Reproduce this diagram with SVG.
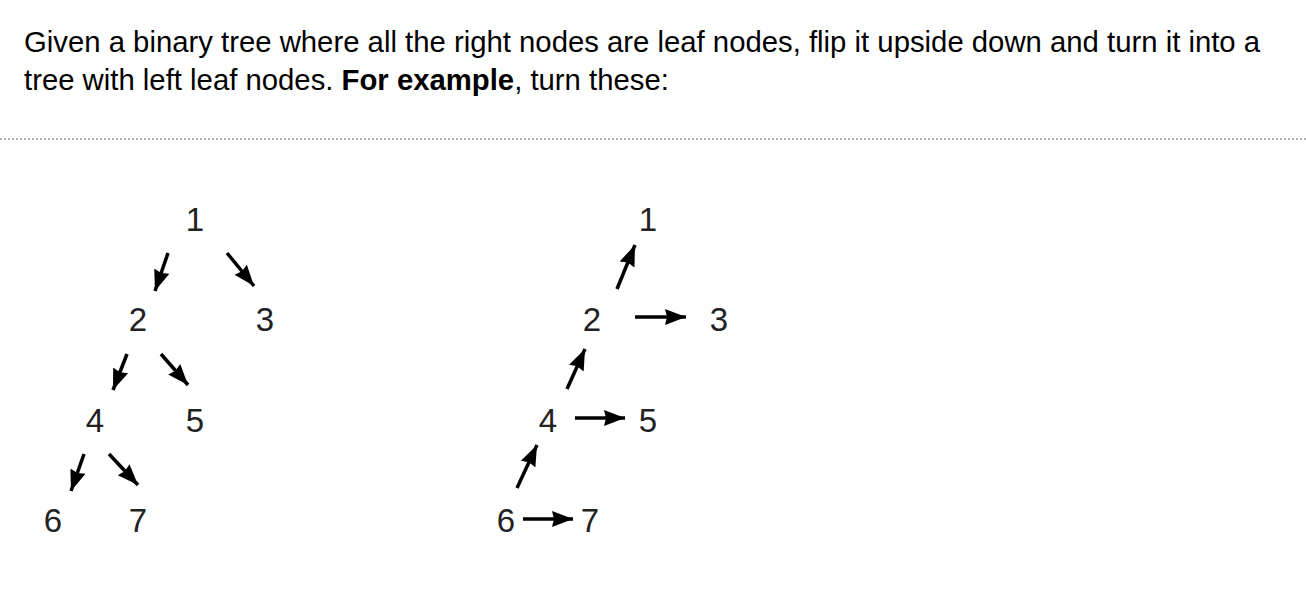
<svg xmlns="http://www.w3.org/2000/svg" width="1306" height="606" viewBox="0 0 1306 606">
<style>
.t{font-family:"Liberation Sans",Arial,sans-serif;font-size:29.3px;fill:#000}
.n{font-family:"Liberation Sans",Arial,sans-serif;font-size:33px;fill:#222;text-anchor:middle}
.e{stroke:#000;stroke-width:3.5;fill:none;marker-end:url(#ah)}
</style>
<defs>
<marker id="ah" markerUnits="userSpaceOnUse" markerWidth="24" markerHeight="18" refX="21" refY="8" orient="auto" viewBox="0 0 24 16">
<path d="M0,0 L21,8 L0,16 L2,8 z" fill="#000"/>
</marker>
</defs>
<rect width="1306" height="606" fill="#fff"/>
<g id="intro">
<text class="t" x="24" y="52">Given a binary tree where all the right nodes are leaf nodes, flip it upside down and turn it into a</text>
<text class="t" x="24" y="90">tree with left leaf nodes. <tspan font-weight="bold">For example</tspan>, turn these:</text>
</g>
<line x1="0" y1="139" x2="1306" y2="139" stroke="#999" stroke-width="1.5" stroke-dasharray="2,2"/>
<g id="connectors">
<line class="e" x1="168" y1="253" x2="155" y2="291"/>
<line class="e" x1="227" y1="253" x2="254" y2="286"/>
<line class="e" x1="127" y1="354" x2="113" y2="390"/>
<line class="e" x1="161" y1="354" x2="188" y2="385"/>
<line class="e" x1="84" y1="454" x2="71" y2="491"/>
<line class="e" x1="109" y1="454" x2="138" y2="485"/>
<line class="e" x1="617" y1="289" x2="635" y2="245"/>
<line class="e" x1="635" y1="317" x2="686" y2="317"/>
<line class="e" x1="567" y1="389" x2="585" y2="349"/>
<line class="e" x1="575" y1="418" x2="625" y2="418"/>
<line class="e" x1="517" y1="488" x2="537" y2="445"/>
<line class="e" x1="523" y1="519" x2="573" y2="519"/>
</g>
<g id="a1"><text class="n" x="195" y="231">1</text></g>
<g id="a2"><text class="n" x="138" y="331">2</text></g>
<g id="a3"><text class="n" x="265" y="331">3</text></g>
<g id="a4"><text class="n" x="95" y="432">4</text></g>
<g id="a5"><text class="n" x="195" y="432">5</text></g>
<g id="a6"><text class="n" x="53" y="532">6</text></g>
<g id="a7"><text class="n" x="138" y="532">7</text></g>
<g id="b1"><text class="n" x="648" y="231">1</text></g>
<g id="b2"><text class="n" x="592" y="331">2</text></g>
<g id="b3"><text class="n" x="719" y="331">3</text></g>
<g id="b4"><text class="n" x="548" y="432">4</text></g>
<g id="b5"><text class="n" x="648" y="432">5</text></g>
<g id="b6"><text class="n" x="506" y="532">6</text></g>
<g id="b7"><text class="n" x="590" y="532">7</text></g>
</svg>
